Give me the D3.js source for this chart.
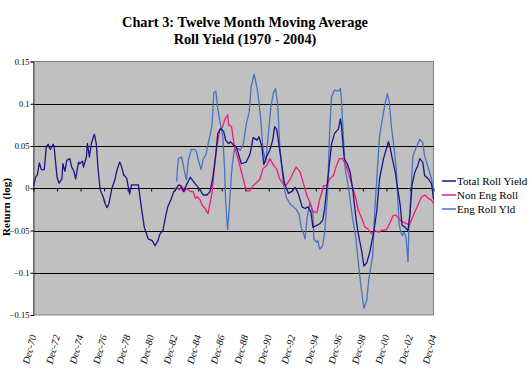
<!DOCTYPE html>
<html><head><meta charset="utf-8">
<script src="https://cdn.jsdelivr.net/npm/d3@7"></script>
<style>body{margin:0;background:#fff;}svg{display:block;}</style>
</head><body><svg id="c" width="532" height="386"></svg>
<script>
const title1 = "Chart 3: Twelve Month Moving Average";
const title2 = "Roll Yield (1970 - 2004)";
const yTicks = [0.15, 0.1, 0.05, 0, -0.05, -0.1, -0.15];
const xTickLabels = ["Dec-70","Dec-72","Dec-74","Dec-76","Dec-78","Dec-80","Dec-82","Dec-84","Dec-86","Dec-88","Dec-90","Dec-92","Dec-94","Dec-96","Dec-98","Dec-00","Dec-02","Dec-04"];
const seriesNames = ["Total Roll Yield", "Non Eng Roll", "Eng Roll Yld"];

const totalDates = ["1970-12","1971-02","1971-04","1971-06","1971-08","1971-11","1972-01","1972-03","1972-05","1972-08","1972-09","1972-11","1972-12","1973-02","1973-05","1973-06","1973-08","1973-10","1974-01","1974-03","1974-05","1974-07","1974-10","1974-11","1975-02","1975-03","1975-06","1975-07","1975-09","1975-11","1976-02","1976-04","1976-06","1976-08","1976-11","1977-01","1977-03","1977-05","1977-08","1977-11","1978-01","1978-04","1978-06","1978-08","1978-11","1979-02","1979-04","1979-09","1979-11","1980-01","1980-03","1980-05","1980-09","1981-01","1981-04","1981-07","1981-09","1981-12","1982-03","1982-05","1982-08","1982-11","1983-01","1983-04","1983-06","1983-09","1983-12","1984-04","1984-07","1984-10","1985-02","1985-05","1985-09","1985-12","1986-03","1986-06","1986-08","1986-11","1987-02","1987-04","1987-07","1987-09","1987-12","1988-03","1988-08","1989-01","1989-05","1989-08","1989-12","1990-02","1990-05","1990-07","1990-10","1991-01","1991-04","1991-06","1991-08","1991-10","1992-01","1992-04","1992-08","1992-11","1993-03","1993-06","1993-10","1994-01","1994-04","1994-07","1994-09","1995-01","1995-04","1995-07","1995-09","1996-01","1996-04","1996-07","1996-11","1997-01","1997-02","1997-05","1997-08","1997-11","1998-02","1998-05","1998-07","1998-11","1999-01","1999-04","1999-07","1999-11","2000-02","2000-05","2000-09","2000-12","2001-02","2001-04","2001-06","2001-09","2001-11","2002-02","2002-04","2002-07","2002-10","2002-12","2003-02","2003-05","2003-08","2003-10","2004-01","2004-03","2004-07","2004-10","2004-12"];
const totalValues = [0.002,0.013,0.016,0.030,0.022,0.022,0.049,0.052,0.046,0.052,0.049,0.025,0.013,0.006,0.011,0.029,0.020,0.033,0.035,0.025,0.021,0.011,0.031,0.029,0.032,0.025,0.037,0.053,0.037,0.053,0.064,0.053,0.021,-0.002,-0.010,-0.018,-0.023,-0.018,0.000,0.010,0.021,0.031,0.025,0.016,0.012,-0.007,0.004,0.004,0.004,-0.014,-0.030,-0.046,-0.060,-0.062,-0.068,-0.062,-0.054,-0.050,-0.032,-0.022,-0.014,-0.004,-0.002,0.004,0.003,-0.004,0.004,0.013,0.008,0.004,-0.002,-0.008,-0.008,-0.004,0.013,0.041,0.065,0.071,0.067,0.057,0.053,0.055,0.051,0.049,0.029,0.031,0.041,0.060,0.057,0.061,0.049,0.028,0.038,0.045,0.057,0.073,0.070,0.055,0.029,0.006,-0.006,-0.004,0.001,-0.006,-0.022,-0.024,-0.022,-0.028,-0.046,-0.044,-0.042,-0.038,-0.024,0.020,0.052,0.065,0.070,0.082,0.075,0.035,0.029,0.019,-0.005,-0.036,-0.052,-0.076,-0.092,-0.088,-0.076,-0.052,-0.028,0.011,0.035,0.047,0.055,0.047,0.035,0.019,0.003,-0.020,-0.044,-0.046,-0.050,-0.032,0.003,0.019,0.027,0.035,0.031,0.015,0.011,0.005,-0.013];

const nonEngDates = ["1982-12","1983-03","1983-05","1983-07","1983-10","1983-12","1984-04","1984-07","1984-09","1984-11","1985-02","1985-04","1985-07","1985-10","1985-12","1986-02","1986-04","1986-07","1986-10","1987-01","1987-03","1987-06","1987-07","1987-10","1988-01","1988-05","1988-07","1988-10","1989-01","1989-05","1989-08","1989-12","1990-03","1990-06","1990-10","1991-01","1991-05","1991-08","1991-11","1992-03","1992-06","1992-10","1993-01","1993-04","1993-08","1993-11","1994-03","1994-06","1994-09","1995-01","1995-04","1995-08","1995-11","1996-02","1996-06","1996-09","1996-12","1997-03","1997-06","1997-08","1997-11","1998-02","1998-05","1998-07","1998-11","1999-02","1999-05","1999-09","1999-12","2000-04","2000-07","2000-12","2001-04","2001-07","2001-10","2002-02","2002-05","2002-09","2002-11","2003-02","2003-05","2003-08","2003-12","2004-03","2004-07","2004-10","2004-12"];
const nonEngValues = [0.000,0.000,-0.002,0.003,-0.004,0.000,-0.004,-0.004,-0.012,-0.010,-0.014,-0.020,-0.024,-0.030,-0.018,-0.006,0.018,0.049,0.069,0.073,0.081,0.087,0.075,0.073,0.049,0.034,0.024,0.011,-0.003,-0.003,0.003,0.007,0.011,0.023,0.027,0.035,0.027,0.023,0.011,0.005,0.004,0.011,0.019,0.025,0.019,0.007,-0.009,-0.017,-0.027,-0.029,-0.013,0.003,0.003,0.011,0.015,0.027,0.035,0.035,0.029,0.023,0.011,-0.001,-0.013,-0.025,-0.036,-0.046,-0.048,-0.054,-0.050,-0.052,-0.050,-0.049,-0.040,-0.032,-0.032,-0.038,-0.040,-0.042,-0.044,-0.036,-0.028,-0.020,-0.010,-0.008,-0.012,-0.014,-0.018];

const engDates = ["1983-02","1983-03","1983-04","1983-07","1983-09","1983-11","1983-12","1984-02","1984-05","1984-08","1984-10","1984-12","1985-03","1985-05","1985-08","1985-10","1985-12","1986-02","1986-04","1986-06","1986-08","1986-10","1987-01","1987-03","1987-04","1987-06","1987-07","1987-09","1987-10","1987-11","1988-01","1988-05","1988-07","1988-10","1989-01","1989-04","1989-06","1989-09","1989-11","1990-01","1990-04","1990-06","1990-09","1990-11","1991-02","1991-05","1991-07","1991-09","1991-11","1992-03","1992-06","1992-10","1993-01","1993-04","1993-07","1993-09","1993-11","1994-01","1994-03","1994-06","1994-09","1994-10","1995-01","1995-02","1995-04","1995-07","1995-09","1995-12","1996-02","1996-04","1996-07","1996-11","1997-01","1997-02","1997-04","1997-06","1997-10","1998-01","1998-05","1998-07","1998-10","1999-01","1999-04","1999-06","1999-10","1999-12","2000-03","2000-05","2000-09","2000-11","2001-01","2001-03","2001-05","2001-08","2001-10","2002-01","2002-04","2002-06","2002-08","2002-10","2002-11","2003-01","2003-03","2003-07","2003-10","2004-01","2004-03","2004-07","2004-10","2004-12"];
const engValues = [0.008,0.026,0.035,0.037,0.026,0.014,0.010,0.034,0.046,0.046,0.044,0.034,0.022,0.034,0.040,0.052,0.062,0.074,0.113,0.115,0.094,0.080,0.062,0.022,-0.015,-0.049,-0.035,0.000,0.018,0.030,0.046,0.047,0.045,0.052,0.076,0.090,0.120,0.135,0.124,0.112,0.080,0.047,0.031,0.058,0.095,0.114,0.118,0.100,0.054,0.004,-0.011,-0.019,-0.022,-0.025,-0.031,-0.046,-0.052,-0.060,-0.036,-0.017,-0.029,-0.060,-0.064,-0.062,-0.072,-0.068,-0.052,-0.005,0.066,0.108,0.116,0.115,0.118,0.106,0.062,0.023,-0.005,-0.032,-0.060,-0.084,-0.116,-0.142,-0.132,-0.108,-0.080,-0.029,0.026,0.062,0.090,0.102,0.112,0.102,0.074,0.046,0.023,-0.044,-0.056,-0.052,-0.058,-0.087,-0.044,-0.005,0.038,0.050,0.058,0.054,0.038,0.023,0.011,-0.005];

const colors = ["#1c1585", "#f0197f", "#4674c0"];

const parse = d3.timeParse("%Y-%m");
const svg = d3.select("#c");
const m = {left: 33.5, right: 433.5, top: 61.5, bottom: 315};

const x = d3.scaleTime().domain([parse("1970-12"), parse("2004-12")]).range([m.left, m.right]);
const y = d3.scaleLinear().domain([-0.15, 0.15]).range([m.bottom, m.top]);

// title
const serif = "'Liberation Serif', 'Times New Roman', serif";
svg.append("text").attr("x", 245).attr("y", 27).attr("text-anchor", "middle")
  .attr("font-family", serif).attr("font-weight", "bold").attr("font-size", 14.3).text(title1);
svg.append("text").attr("x", 245).attr("y", 44).attr("text-anchor", "middle")
  .attr("font-family", serif).attr("font-weight", "bold").attr("font-size", 14.3).text(title2);

// plot background
svg.append("rect").attr("x", m.left).attr("y", m.top).attr("width", m.right - m.left).attr("height", m.bottom - m.top)
  .attr("fill", "#c0c0c0").attr("stroke", "#808080").attr("stroke-width", 1);

// gridlines
svg.append("g").selectAll("line").data(yTicks.filter(v => Math.abs(v) < 0.12 && v !== 0)).join("line")
  .attr("x1", m.left).attr("x2", m.right).attr("y1", d => Math.round(y(d)) + 0.5).attr("y2", d => Math.round(y(d)) + 0.5)
  .attr("stroke", "#000").attr("stroke-width", 1);

// y axis
const yAxis = d3.axisLeft(y).tickValues(yTicks).tickSize(3).tickPadding(1).tickFormat(d => d3.format("")(+d.toFixed(2)));
const gy = svg.append("g").attr("transform", `translate(${m.left},0)`).call(yAxis);
gy.select(".domain").attr("stroke", "#555");
gy.selectAll(".tick line").attr("stroke", "#000");
gy.selectAll("text").attr("font-family", serif).attr("font-size", 8.5).attr("fill", "#000");

// x axis at zero
const xTickDates = xTickLabels.map((s, i) => d3.timeMonth.offset(parse("1970-12"), 24 * i));
const xAxis = d3.axisBottom(x).tickValues(xTickDates).tickSize(3).tickFormat("");
const gx = svg.append("g").attr("transform", `translate(0,${Math.round(y(0)) + 0.5})`).call(xAxis);
gx.select(".domain").attr("stroke", "#000").attr("d", `M${m.left},0H${m.right}`);
gx.selectAll(".tick line").attr("stroke", "#000");

// x labels
svg.append("g").selectAll("text").data(xTickDates).join("text")
  .attr("transform", (d) => `translate(${x(d) + 3},336) rotate(-75)`)
  .attr("text-anchor", "end").attr("font-family", serif).attr("font-style", "italic").attr("font-size", 10)
  .text((d, i) => xTickLabels[i]);

// y axis title
svg.append("text").attr("transform", "translate(9.5,207) rotate(-90)").attr("text-anchor", "middle")
  .attr("font-family", serif).attr("font-weight", "bold").attr("font-size", 11).text("Return (log)");

// lines
const line = d3.line().x(d => x(d[0])).y(d => y(d[1]));
const series = [
  totalDates.map((d, i) => [parse(d), totalValues[i]]),
  nonEngDates.map((d, i) => [parse(d), nonEngValues[i]]),
  engDates.map((d, i) => [parse(d), engValues[i]])
];
const drawOrder = [2, 1, 0];
svg.append("g").selectAll("path").data(drawOrder).join("path")
  .attr("d", i => line(series[i])).attr("fill", "none").attr("stroke", i => colors[i])
  .attr("stroke-width", 1.3).attr("stroke-linejoin", "round");

// legend
const lg = svg.append("g");
seriesNames.forEach((n, i) => {
  const yy = 181 + i * 14;
  lg.append("line").attr("x1", 442).attr("x2", 456).attr("y1", yy).attr("y2", yy).attr("stroke", colors[i]).attr("stroke-width", 1.5);
  lg.append("text").attr("x", 457).attr("y", yy + 3.5).attr("font-family", serif).attr("font-size", 11).text(n);
});
</script></body></html>
